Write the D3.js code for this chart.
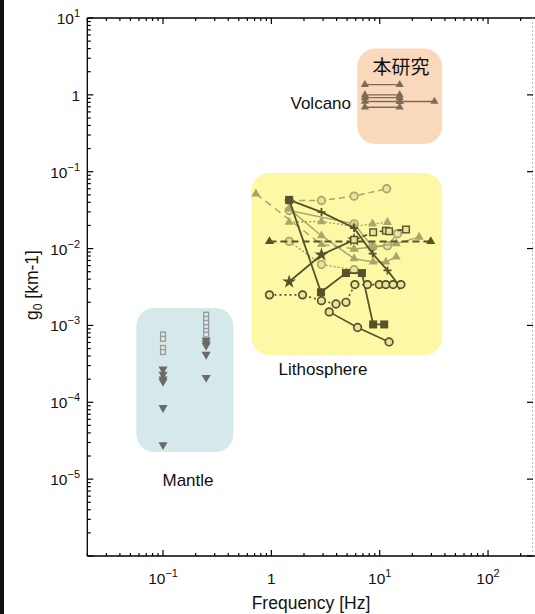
<!DOCTYPE html>
<html><head><meta charset="utf-8">
<script src="https://cdn.jsdelivr.net/npm/d3@7"></script>
<style>body{margin:0;background:#fff}svg{display:block}text{font-family:"Liberation Sans",Arial,sans-serif}</style>
</head><body><svg id="c" width="535" height="614"></svg>
<script>
// ---------- data ----------
const xTicks = [0.1, 1, 10, 100];
const xTickLabels = [["10","−1"], ["1",""], ["10","1"], ["10","2"]];
const yTicks = [10, 1, 0.1, 0.01, 0.001, 1e-4, 1e-5];
const yTickLabels = [["10","1"], ["1",""], ["10","−1"], ["10","−2"], ["10","−3"], ["10","−4"], ["10","−5"]];

// region extents [fMin, fMax, gMin, gMax]
const volcanoRegion = [6.2, 37.7, 0.23, 4.0];
const lithoRegion = [0.653, 37.7, 4.1e-4, 0.096];
const mantleRegion = [0.0567, 0.446, 2.25e-5, 1.69e-3];

// this study (volcano)
const volcanoF = [7.3, 15.3];
const volcanoG = [1.36, 1.0, 0.92, 0.82, 0.69];
const volcanoExtF = [15.3, 32];
const volcanoExtG = 0.82;

// mantle
const mantleF = [0.1, 0.25];
const mantleSq1 = [7.6e-4, 6.7e-4, 5.1e-4, 4.5e-4];
const mantleTri1 = [2.7e-4, 2.3e-4, 2.0e-4, 1.87e-4, 8.5e-5, 2.8e-5];
const mantleSq2 = [1.38e-3, 1.22e-3, 1.08e-3, 9.5e-4, 8.5e-4, 7.6e-4];
const mantleTri2 = [6.4e-4, 5.9e-4, 5.5e-4, 4.2e-4, 2.1e-4];

// lithosphere – dark series
const d1F = [0.96, 29.6], d1G = [0.0124, 0.0124];
const d2F = [1.46, 2.9, 5.8, 8.6, 11.8, 15.1], d2G = [0.043, 0.0298, 0.0185, 0.0086, 0.0052, 0.0033];
const d3F = [1.46, 2.87, 4.88, 6.85, 8.7, 11.0], d3G = [0.043, 0.0027, 0.0048, 0.0048, 0.00103, 0.00103];
const d4F = [1.46, 2.9, 5.8], d4G = [0.0037, 0.0083, 0.0130];
const d5F = [5.8, 8.7, 11.4, 12.2, 17.5], d5G = [0.0130, 0.0163, 0.0171, 0.0168, 0.0177];
const d6F = [0.96, 1.94, 2.9, 3.95, 4.88, 5.9, 7.7, 9.9, 11.4, 13.3, 15.7];
const d6G = [0.0025, 0.0025, 0.0021, 0.0019, 0.0020, 0.0034, 0.0034, 0.0034, 0.0034, 0.0034, 0.0034];
const d7F = [3.42, 6.25, 12.2], d7G = [0.0015, 0.00094, 0.00061];

// lithosphere – light series
const l1F = [1.46, 2.9, 5.8, 11.6], l1G = [0.042, 0.0422, 0.0481, 0.060];
const l2F = [1.46, 5.8, 8.6, 11.8, 14.6], l2G = [0.0313, 0.021, 0.0105, 0.0109, 0.0156];
const l3F = [1.46, 2.9, 5.8, 8.6, 11.8], l3G = [0.0221, 0.0225, 0.0195, 0.021, 0.022];
const l4F = [1.46, 2.9, 5.8, 8.7, 11.4, 14.2], l4G = [0.0329, 0.0147, 0.0074, 0.0067, 0.0067, 0.0078];
const l5F = [0.72, 2.9, 5.8], l5G = [0.0516, 0.0113, 0.0099];
const l6F = [5.8, 8.6, 14.2, 23.1], l6G = [0.0099, 0.0105, 0.0116, 0.0141];
const l7F = [1.46, 2.9, 5.8], l7G = [0.0124, 0.0062, 0.0053];

// ---------- scales ----------
const svg = d3.select("#c");
const x = d3.scaleLog().domain([0.02, 260]).range([87.3, 533]);
const y = d3.scaleLog().domain([1e-6, 10]).range([556, 18]);

svg.append("rect").attr("x",0).attr("y",0).attr("width",4).attr("height",614).attr("fill","#111");

// regions
function region(r, fill) {
  svg.append("rect").attr("x", x(r[0])).attr("y", y(r[3]))
    .attr("width", x(r[1]) - x(r[0])).attr("height", y(r[2]) - y(r[3]))
    .attr("rx", 18).attr("ry", 18).attr("fill", fill);
}
region(volcanoRegion, "#f9d8bc");
region(lithoRegion, "#fcf8a6");
region(mantleRegion, "#d5e9ea");

// ---------- axes frame ----------
const ax = svg.append("g").attr("stroke", "#000").attr("stroke-width", 1.3);
ax.append("line").attr("x1", x(0.02)).attr("x2", x(0.02)).attr("y1", 18).attr("y2", 556);
ax.append("line").attr("x1", x(0.02)).attr("x2", 535).attr("y1", 556).attr("y2", 556);
ax.append("line").attr("x1", x(0.02)).attr("x2", 535).attr("y1", 18).attr("y2", 18);
svg.append("line").attr("x1", 532.5).attr("x2", 532.5).attr("y1", 18).attr("y2", 556)
  .attr("stroke", "#bbb").attr("stroke-dasharray", "2,2");

const tk = svg.append("g").attr("stroke", "#000").attr("stroke-width", 1.2);
for (let e = -2; e <= 2; e++) {
  for (let m = 1; m <= 9; m++) {
    const v = m * Math.pow(10, e);
    if (v < 0.02 || v > 260) continue;
    const L = m === 1 ? 6 : 3;
    tk.append("line").attr("x1", x(v)).attr("x2", x(v)).attr("y1", 556).attr("y2", 556 - L);
    tk.append("line").attr("x1", x(v)).attr("x2", x(v)).attr("y1", 18).attr("y2", 18 + L);
  }
}
for (let e = -6; e <= 0; e++) {
  for (let m = 1; m <= 9; m++) {
    const v = m * Math.pow(10, e);
    if (v < 1e-6 || v > 10) continue;
    const L = m === 1 ? 6 : 3.5;
    tk.append("line").attr("x1", x(0.02)).attr("x2", x(0.02) + L).attr("y1", y(v)).attr("y2", y(v));
    if (m === 1) tk.append("line").attr("x1", 533).attr("x2", 527).attr("y1", y(v)).attr("y2", y(v));
  }
}
tk.append("line").attr("x1", x(0.02)).attr("x2", x(0.02) + 6).attr("y1", y(10)).attr("y2", y(10));

// tick labels
xTicks.forEach((v, i) => {
  const t = svg.append("text").attr("x", x(v)).attr("y", 584).attr("text-anchor", "middle")
    .attr("font-size", 15.5).attr("fill", "#111");
  t.append("tspan").text(xTickLabels[i][0]);
  if (xTickLabels[i][1]) t.append("tspan").attr("dy", -7).attr("font-size", 11).text(xTickLabels[i][1]);
});
yTicks.forEach((v, i) => {
  const t = svg.append("text").attr("x", 80).attr("y", y(v) + 6).attr("text-anchor", "end")
    .attr("font-size", 15.5).attr("fill", "#111");
  t.append("tspan").text(yTickLabels[i][0]);
  if (yTickLabels[i][1]) t.append("tspan").attr("dy", -7).attr("font-size", 11).text(yTickLabels[i][1]);
});

// axis titles
svg.append("text").attr("x", 311).attr("y", 609).attr("text-anchor", "middle").attr("font-size", 17.5)
  .attr("fill", "#111").text("Frequency [Hz]");
const yl = svg.append("text").attr("transform", "translate(38,285) rotate(-90)").attr("text-anchor", "middle")
  .attr("font-size", 17.5).attr("fill", "#111");
yl.append("tspan").text("g");
yl.append("tspan").attr("font-size", 12).attr("dy", 4).text("0");
yl.append("tspan").attr("dy", -4).text(" [km-1]");

// region labels
svg.append("text").attr("x", 351).attr("y", 109).attr("text-anchor", "end").attr("font-size", 17).attr("fill", "#111").text("Volcano");
svg.append("text").attr("x", 401).attr("y", 74).attr("text-anchor", "middle").attr("font-size", 19)
  .style("font-family", "'Noto Sans CJK JP','Noto Sans CJK SC',sans-serif").attr("fill", "#111").text("本研究");
svg.append("text").attr("x", 323).attr("y", 375).attr("text-anchor", "middle").attr("font-size", 17).attr("fill", "#111").text("Lithosphere");
svg.append("text").attr("x", 188).attr("y", 486).attr("text-anchor", "middle").attr("font-size", 17).attr("fill", "#111").text("Mantle");

// ---------- marks ----------
const DARK = "#55532a", LIGHT = "#a9a66c", BOXY = "#e8e49a";
const lineGen = d3.line().x(d => x(d[0])).y(d => y(d[1]));
const zip = (F, G) => F.map((f, i) => [f, Array.isArray(G) ? G[i] : G]);

function marker(g, type, px, py, col, fill, s) {
  s = s || 1;
  if (type === "tri") g.append("path").attr("d", d3.symbol(d3.symbolTriangle, 36 * s)()).attr("transform", `translate(${px},${py})`).attr("fill", col);
  else if (type === "tridown") g.append("path").attr("d", d3.symbol(d3.symbolTriangle, 36 * s)()).attr("transform", `translate(${px},${py}) rotate(180)`).attr("fill", col);
  else if (type === "circle") g.append("circle").attr("cx", px).attr("cy", py).attr("r", 3.8).attr("fill", fill).attr("stroke", col).attr("stroke-width", 1.7);
  else if (type === "square") g.append("rect").attr("x", px - 3.3 * s).attr("y", py - 3.3 * s).attr("width", 6.6 * s).attr("height", 6.6 * s).attr("fill", fill).attr("stroke", col).attr("stroke-width", 1.4);
  else if (type === "star") g.append("path").attr("d", d3.symbol(d3.symbolStar, 60)()).attr("transform", `translate(${px},${py})`).attr("fill", col);
  else if (type === "plus") g.append("path").attr("d", "M-4,0H4M0,-4V4").attr("transform", `translate(${px},${py})`).attr("stroke", col).attr("stroke-width", 1.8);
}

function series(F, G, col, width, dash, mk, fill, s) {
  const pts = zip(F, G);
  const g = svg.append("g");
  g.append("path").attr("d", lineGen(pts)).attr("fill", "none").attr("stroke", col)
    .attr("stroke-width", width).attr("stroke-dasharray", dash);
  pts.forEach(p => marker(g, mk, x(p[0]), y(p[1]), col, fill, s));
}

series(l5F, l5G, LIGHT, 1.5, "7,5", "tri", BOXY);
series(l1F, l1G, LIGHT, 1.5, "6,4", "circle", BOXY);
series(l2F, l2G, LIGHT, 1.5, null, "circle", BOXY);
series(l3F, l3G, LIGHT, 1.5, "2,2", "tri", BOXY);
series(l4F, l4G, LIGHT, 1.5, null, "tri", BOXY);
series(l6F, l6G, LIGHT, 1.5, null, "tri", BOXY);
series(l7F, l7G, LIGHT, 1.5, "2,2", "circle", BOXY);

series(d1F, d1G, DARK, 2, "7,4", "tri", BOXY);
series(d2F, d2G, DARK, 1.8, null, "plus", BOXY);
series(d3F, d3G, DARK, 1.8, null, "square", DARK);
series(d4F, d4G, DARK, 1.8, null, "star", BOXY);
series(d5F, d5G, DARK, 1.6, "5,4", "square", BOXY);
series(d6F, d6G, DARK, 1.6, "2,3", "circle", BOXY);
series(d7F, d7G, DARK, 1.6, null, "circle", BOXY);

const VC = "#7d6b55";
volcanoG.forEach(gv => series(volcanoF, [gv, gv], VC, 1.4, null, "tri", VC, 0.8));
series(volcanoExtF, volcanoExtG, VC, 1.4, null, "tri", VC, 0.8);

const mg = svg.append("g");
mantleSq1.forEach(v => marker(mg, "square", x(mantleF[0]), y(v), "#9a9a9a", "#e4eeee", 0.72));
mantleSq2.forEach(v => marker(mg, "square", x(mantleF[1]), y(v), "#9a9a9a", "#e4eeee", 0.72));
mantleTri1.forEach(v => marker(mg, "tridown", x(mantleF[0]), y(v), "#6a6a6a"));
mantleTri2.forEach(v => marker(mg, "tridown", x(mantleF[1]), y(v), "#6a6a6a"));
</script></body></html>
